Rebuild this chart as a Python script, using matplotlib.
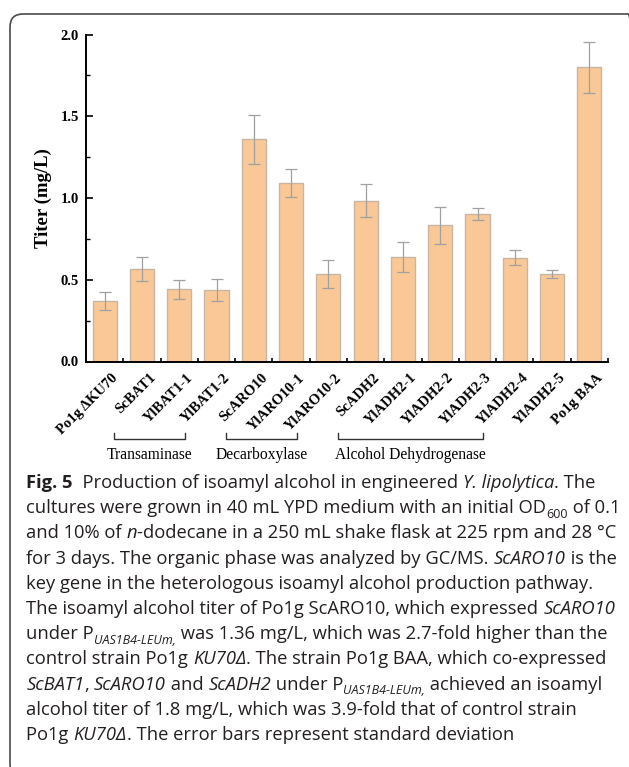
import numpy as np
import matplotlib.pyplot as plt
from matplotlib.patches import FancyBboxPatch
from matplotlib.transforms import ScaledTranslation, IdentityTransform, blended_transform_factory
from matplotlib.font_manager import FontProperties

W, H = 629, 767

# isoamyl alcohol titer of each strain (mg/L) and standard deviation
strains = ['Po1g ΔKU70', 'ScBAT1', 'YlBAT1-1', 'YlBAT1-2', 'ScARO10', 'YlARO10-1',
           'YlARO10-2', 'ScADH2', 'YlADH2-1', 'YlADH2-2', 'YlADH2-3', 'YlADH2-4',
           'YlADH2-5', 'Po1g BAA']
titer = [0.37, 0.568, 0.441, 0.435, 1.36, 1.092, 0.537,
         0.984, 0.639, 0.833, 0.900, 0.635, 0.533, 1.80]
sd = [0.057, 0.074, 0.056, 0.067, 0.150, 0.087, 0.085,
      0.103, 0.094, 0.113, 0.036, 0.046, 0.025, 0.157]

# enzyme groups: name, first strain, last strain
groups = [('Transaminase', 1, 3),
          ('Decarboxylase', 4, 6),
          ('Alcohol Dehydrogenase', 7, 11)]

serif = 'Liberation Serif'

fig = plt.figure(figsize=(W / 100, H / 100), dpi=100)

# rounded frame around figure + caption (runs off the right and bottom edges)
frame = FancyBboxPatch((10, -10), 631, H - 14 + 10,
                       boxstyle='round,pad=0,rounding_size=13',
                       transform=IdentityTransform(), fc='none',
                       ec='#4a4a4a', lw=1.2)
fig.patches.append(frame)

ax = fig.add_axes([86 / W, 1 - 361.5 / H, 522 / W, 327 / H])
x = np.arange(len(strains))
ax.bar(x, titer, width=0.65, color='#F9C896', edgecolor='#C8B6A4', linewidth=1.0, zorder=2)
ax.errorbar(x, titer, yerr=sd, fmt='none', ecolor='#A0A0A0', elinewidth=0.9,
            capsize=4, capthick=0.9, zorder=3)

ax.set_xlim(-0.5, len(strains) - 0.5)
ax.set_ylim(0, 2.0)
for s in ['top', 'right']:
    ax.spines[s].set_visible(False)
for s in ['left', 'bottom']:
    ax.spines[s].set_linewidth(1.4)

ax.set_yticks(np.arange(0, 2.01, 0.5))
ax.set_yticks(np.arange(0.25, 2.0, 0.5), minor=True)
ax.set_yticklabels(['%.1f' % v for v in np.arange(0, 2.01, 0.5)],
                   fontfamily=serif, fontweight='bold', fontsize=10.5)
ax.tick_params(axis='y', which='major', direction='in', length=5, width=1.2, pad=5)
ax.tick_params(axis='y', which='minor', direction='in', length=3, width=1.0)

ax.set_xticks(x)
ax.set_xticks(x + 0.5, minor=True)
ax.set_xticklabels(strains, rotation=45, ha='right', va='top', rotation_mode='anchor',
                   fontfamily=serif, fontweight='bold', fontsize=10.5)
ax.tick_params(axis='x', which='major', length=0, pad=7)
ax.tick_params(axis='x', which='minor', direction='in', length=3, width=1.2)
shift = ScaledTranslation(5 / 72, 0, fig.dpi_scale_trans)
for lbl in ax.get_xticklabels():
    lbl.set_transform(lbl.get_transform() + shift)

fig.text(43 / W, 1 - 198 / H, 'Titer (mg/L)', rotation=90, ha='center', va='center',
         fontfamily=serif, fontweight='bold', fontsize=13.5)

# group brackets under the tick labels
trans = blended_transform_factory(ax.transData, ax.transAxes)
y_line, y_tip, y_txt = -0.236, -0.218, -0.285
for name, i0, i1 in groups:
    xa, xb = i0 - 0.74, i1 - 0.84
    ax.plot([xa, xa, xb, xb], [y_tip, y_line, y_line, y_tip], color='#333333',
            lw=1.0, transform=trans, clip_on=False)
    ax.text((xa + xb) / 2, y_txt, name, transform=trans, ha='center', va='center',
            fontfamily=serif, fontsize=11.2)

# caption, drawn run by run so italic / bold / subscript parts can be mixed
caption = [
    [('Fig. 5', 'b'), ('  Production of isoamyl alcohol in engineered ', 'r'),
     ('Y. lipolytica', 'i'), ('. The', 'r')],
    [('cultures were grown in 40 mL YPD medium with an initial OD', 'r'), ('600', 's'),
     (' of 0.1', 'r')],
    [('and 10% of ', 'r'), ('n', 'i'),
     ('-dodecane in a 250 mL shake flask at 225 rpm and 28 °C', 'r')],
    [('for 3 days. The organic phase was analyzed by GC/MS. ', 'r'), ('ScARO10', 'i'),
     (' is the', 'r')],
    [('key gene in the heterologous isoamyl alcohol production pathway.', 'r')],
    [('The isoamyl alcohol titer of Po1g ScARO10, which expressed ', 'r'), ('ScARO10', 'i')],
    [('under P', 'r'), ('UAS1B4-LEUm,', 'si'),
     (' was 1.36 mg/L, which was 2.7-fold higher than the', 'r')],
    [('control strain Po1g ', 'r'), ('KU70Δ', 'i'),
     ('. The strain Po1g BAA, which co-expressed', 'r')],
    [('ScBAT1', 'i'), (', ', 'r'), ('ScARO10', 'i'), (' and ', 'r'), ('ScADH2', 'i'),
     (' under P', 'r'), ('UAS1B4-LEUm,', 'si'), (' achieved an isoamyl', 'r')],
    [('alcohol titer of 1.8 mg/L, which was 3.9-fold that of control strain', 'r')],
    [('Po1g ', 'r'), ('KU70Δ', 'i'), ('. The error bars represent standard deviation', 'r')],
]

cap_family = 'Open Sans'
renderer = fig.canvas.get_renderer()


def font_for(kind, size):
    if kind == 'b':
        return FontProperties(family=cap_family, weight='bold', size=size)
    if kind == 'i':
        return FontProperties(family=cap_family, style='italic', size=size)
    if kind == 's':
        return FontProperties(family=cap_family, size=size * 0.68)
    if kind == 'si':
        return FontProperties(family=cap_family, style='italic', size=size * 0.68)
    return FontProperties(family=cap_family, size=size)


def advance(s, prop):
    # pen advance of s, spaces included
    w1 = renderer.get_text_width_height_descent('|' + s + '|', prop, ismath=False)[0]
    w0 = renderer.get_text_width_height_descent('||', prop, ismath=False)[0]
    return w1 - w0


base = 13.0
widest = max(sum(advance(s, font_for(k, base)) for s, k in line) for line in caption)
size = base * 590 / widest

x0, y0, step = 26.5, 488, 25.2
for n, line in enumerate(caption):
    xp = x0
    yb = y0 + n * step
    for s, k in line:
        prop = font_for(k, size)
        dy = 4.5 if k in ('s', 'si') else 0
        fig.text(xp / W, 1 - (yb + dy) / H, s, fontproperties=prop,
                 ha='left', va='baseline', color='#231f20')
        xp += advance(s, prop)

fig.savefig('out.png', dpi=100)
